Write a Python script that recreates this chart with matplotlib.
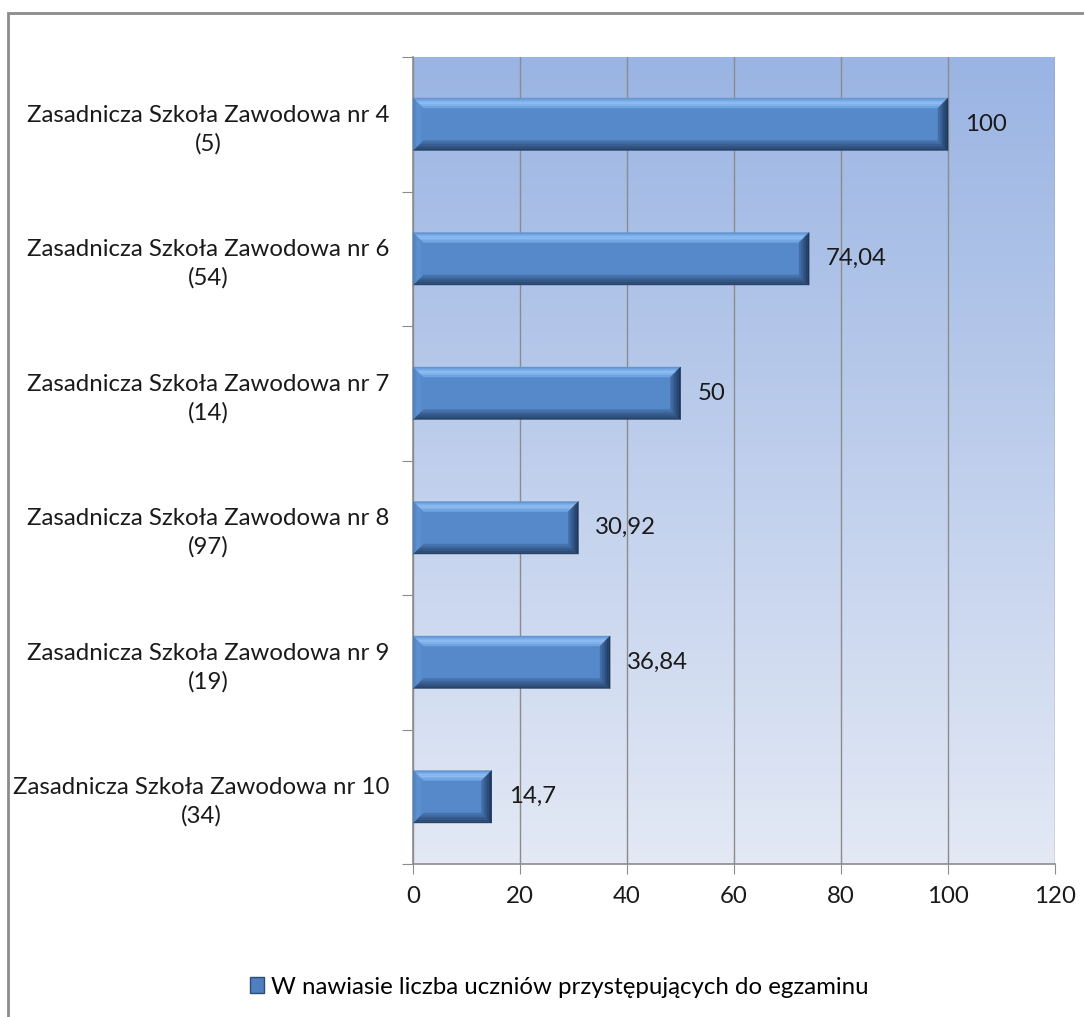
import matplotlib.pyplot as plt
import numpy as np
from matplotlib.colors import LinearSegmentedColormap, to_rgb
from matplotlib.patches import Polygon, Rectangle, Patch

# data (top to bottom)
schools = ["Zasadnicza Szkoła Zawodowa nr 4", "Zasadnicza Szkoła Zawodowa nr 6",
           "Zasadnicza Szkoła Zawodowa nr 7", "Zasadnicza Szkoła Zawodowa nr 8",
           "Zasadnicza Szkoła Zawodowa nr 9", "Zasadnicza Szkoła Zawodowa nr 10"]
students = [5, 54, 14, 97, 19, 34]
values = [100, 74.04, 50, 30.92, 36.84, 14.7]
value_labels = ["100", "74,04", "50", "30,92", "36,84", "14,7"]
x_ticks = [0, 20, 40, 60, 80, 100, 120]
legend_text = "W nawiasie liczba uczniów przystępujących do egzaminu"

plt.rcParams['font.family'] = ['Lato', 'DejaVu Sans']
FS = 17.3


def mix(c1, c2, t):
    a, b = np.array(to_rgb(c1)), np.array(to_rgb(c2))
    return tuple(a + (b - a) * t)


fig = plt.figure(figsize=(10.84, 10.17), dpi=100)
ax = fig.add_axes([413 / 1084, 1 - 864 / 1017, 642 / 1084, 807 / 1017])

# background gradient of the plot area
bg = LinearSegmentedColormap.from_list('bg', ['#e3e9f5', '#9ab4e3'])
grad = np.linspace(0, 1, 256).reshape(-1, 1)
ax.imshow(grad, cmap=bg, aspect='auto', extent=[0, 1, 0, 1],
          transform=ax.transAxes, origin='lower', zorder=0)

n = len(values)
pos = np.arange(n)[::-1]  # first category at the top
h = 0.39
ax.set_xlim(0, 120)
ax.set_ylim(-0.5, n - 0.5)

ax.barh(pos, values, height=h, color='#5589ca', edgecolor='none', zorder=3)

# bevel edges, ~10 px wide, drawn as graded strips
bbox = ax.get_position()
px_x = 120 / (bbox.width * fig.get_figwidth() * fig.dpi)
px_y = n / (bbox.height * fig.get_figheight() * fig.dpi)
bx, by = 10 * px_x, 10 * px_y
steps = 6
# (outer colour, middle colour, inner colour) for each side
sides = {
    'top': ('#5a8dcc', '#92c2f7', '#6a9edd'),
    'bottom': ('#253f62', '#34598a', '#4a78b4'),
    'right': ('#1c3250', '#2e5080', '#4672ad'),
    'left': ('#4a7cbc', '#5e93d2', '#5589ca'),
}


def three(cols, t):
    if t < 0.5:
        return mix(cols[0], cols[1], t * 2)
    return mix(cols[1], cols[2], (t - 0.5) * 2)


for p, v in zip(pos, values):
    x0, x1 = 0, v
    y0, y1 = p - h / 2, p + h / 2
    for k in range(steps):
        t0, t1 = k / steps, (k + 1) / steps
        tm = (t0 + t1) / 2
        polys = {
            'top': [(x0 + bx * t0, y1 - by * t0), (x1 - bx * t0, y1 - by * t0),
                    (x1 - bx * t1, y1 - by * t1), (x0 + bx * t1, y1 - by * t1)],
            'bottom': [(x0 + bx * t0, y0 + by * t0), (x1 - bx * t0, y0 + by * t0),
                       (x1 - bx * t1, y0 + by * t1), (x0 + bx * t1, y0 + by * t1)],
            'right': [(x1 - bx * t0, y0 + by * t0), (x1 - bx * t0, y1 - by * t0),
                      (x1 - bx * t1, y1 - by * t1), (x1 - bx * t1, y0 + by * t1)],
            'left': [(x0 + bx * t0, y0 + by * t0), (x0 + bx * t0, y1 - by * t0),
                     (x0 + bx * t1, y1 - by * t1), (x0 + bx * t1, y0 + by * t1)],
        }
        for side, pts in polys.items():
            c = three(sides[side], tm)
            ax.add_patch(Polygon(pts, closed=True, facecolor=c, edgecolor=c,
                                 linewidth=0.3, zorder=4))

for p, v, lab in zip(pos, values, value_labels):
    ax.text(v + 17 * px_x, p, lab, va='center', ha='left', fontsize=FS, color='#1a1a1a', zorder=6)

# grid and axes
ax.set_xticks(x_ticks)
ax.xaxis.grid(True, color='#8c8c8c', lw=1, zorder=1)
ax.set_axisbelow(False)
for g in ax.get_xgridlines():
    g.set_zorder(1)
for s in ['top', 'right']:
    ax.spines[s].set_visible(False)
for s in ['left', 'bottom']:
    ax.spines[s].set_color('#8c8c8c')
    ax.spines[s].set_linewidth(1.2)
    ax.spines[s].set_zorder(2)

ax.set_yticks(np.arange(-0.5, n, 1.0))
ax.set_yticklabels([])
ax.set_yticks(pos, [f"{s}\n({c})" for s, c in zip(schools, students)], minor=True)
ax.tick_params(axis='y', which='major', length=8, color='#8c8c8c', direction='out')
ax.tick_params(axis='y', which='minor', length=0, pad=17, labelsize=FS)
for t in ax.get_yticklabels(minor=True):
    t.set_multialignment('center')
    t.set_linespacing(1.4)
    t.set_color('#1a1a1a')
ax.tick_params(axis='x', length=7, color='#8c8c8c', pad=9, labelsize=FS, labelcolor='#1a1a1a')

# legend
handle = Patch(facecolor='#4f7fbf', edgecolor='#2c4b75', linewidth=1)
fig.legend([handle], [legend_text], loc='center', bbox_to_anchor=(0.516, 1 - 987 / 1017),
           frameon=False, fontsize=FS, handlelength=0.6, handleheight=0.6, handletextpad=0.3)

# outer chart border
fig.patches.append(Rectangle((8 / 1084, -0.1), 1.2, 1 - 13 / 1017 + 0.1, transform=fig.transFigure,
                             fill=False, edgecolor='#8c8c8c', linewidth=2, clip_on=False))

fig.savefig('out.png', dpi=100)
